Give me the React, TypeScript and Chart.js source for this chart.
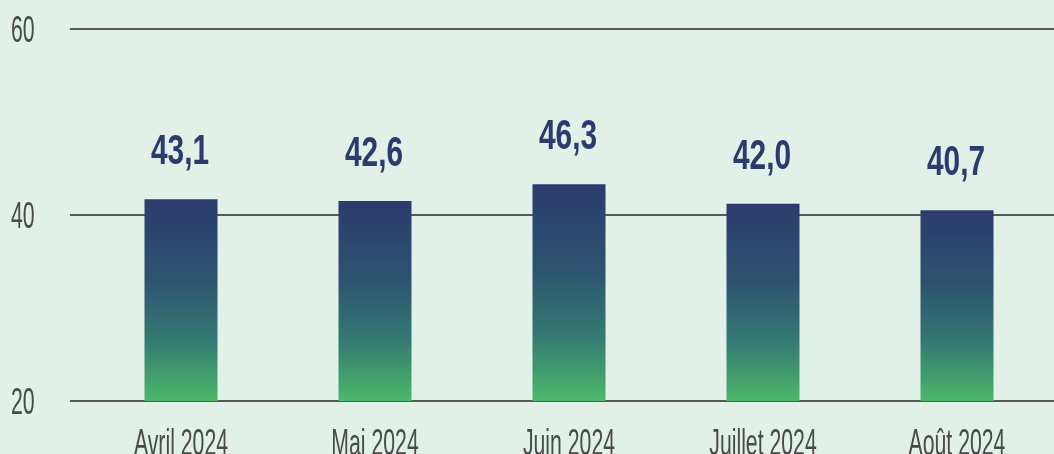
import React, { useEffect, useRef } from "react";
import { Chart, registerables } from "chart.js";

Chart.register(...registerables);

const categories = ["Avril 2024", "Mai 2024", "Juin 2024", "Juillet 2024", "Août 2024"];
const barValues = [41.7, 41.5, 43.3, 41.2, 40.5];
const valueLabels = ["43,1", "42,6", "46,3", "42,0", "40,7"];
const yTicks = [20, 40, 60];

const BG = "#e1f1e7";
const NAVY = "#2c3b6d";
const AXIS_TEXT = "#4a4a4a";
const GRID = "#595959";
const FONT_FAMILY = "'Liberation Sans', Arial, sans-serif";

function drawScaledText(
  ctx: CanvasRenderingContext2D,
  text: string,
  x: number,
  y: number,
  font: string,
  color: string,
  sx: number,
  align: CanvasTextAlign
) {
  ctx.save();
  ctx.translate(x, y);
  ctx.scale(sx, 1);
  ctx.font = font;
  ctx.fillStyle = color;
  ctx.textAlign = align;
  ctx.textBaseline = "alphabetic";
  ctx.fillText(text, 0, 0);
  ctx.restore();
}

const textPlugin = {
  id: "customText",
  afterDraw(chart: any) {
    const ctx: CanvasRenderingContext2D = chart.ctx;
    const xs = chart.scales.x;
    const ys = chart.scales.y;
    yTicks.forEach((v) => {
      const py = ys.getPixelForValue(v);
      drawScaledText(ctx, String(v), 11, py + 13, `400 36px ${FONT_FAMILY}`, AXIS_TEXT, 0.59, "left");
    });
    categories.forEach((c, i) => {
      const px = xs.getPixelForValue(i);
      drawScaledText(ctx, c, px, 455, `400 36px ${FONT_FAMILY}`, AXIS_TEXT, 0.59, "center");
    });
    const meta = chart.getDatasetMeta(0);
    meta.data.forEach((bar: any, i: number) => {
      drawScaledText(ctx, valueLabels[i], bar.x - 1, bar.y - 35, `700 42px ${FONT_FAMILY}`, NAVY, 0.71, "center");
    });
  },
};

const bgPlugin = {
  id: "bg",
  beforeDraw(chart: any) {
    const ctx = chart.ctx;
    ctx.save();
    ctx.fillStyle = BG;
    ctx.fillRect(0, 0, chart.width, chart.height);
    ctx.restore();
  },
};

export default function App() {
  const ref = useRef<HTMLCanvasElement | null>(null);
  useEffect(() => {
    document.body.style.margin = "0";
    document.body.style.background = BG;
    const canvas = ref.current;
    if (!canvas) return;
    const chart = new Chart(canvas, {
      type: "bar",
      data: {
        labels: categories,
        datasets: [
          {
            data: barValues,
            borderWidth: 0,
            barPercentage: 73 / 194,
            categoryPercentage: 1,
            backgroundColor: (context: any) => {
              const ch = context.chart;
              const ys = ch.scales.y;
              if (!ys || context.dataIndex === undefined) return NAVY;
              const top = ys.getPixelForValue(barValues[context.dataIndex]);
              const bottom = ys.getPixelForValue(20);
              if (!isFinite(top) || !isFinite(bottom) || top === bottom) return NAVY;
              const g = ch.ctx.createLinearGradient(0, top, 0, bottom);
              g.addColorStop(0, "#2c3b6e");
              g.addColorStop(0.4, "#2d5470");
              g.addColorStop(0.7, "#347a72");
              g.addColorStop(1, "#4cb86a");
              return g;
            },
          },
        ],
      },
      options: {
        responsive: false,
        animation: false,
        layout: { padding: { top: 29, left: 0, right: 0, bottom: 0 } },
        plugins: { legend: { display: false }, tooltip: { enabled: false } },
        scales: {
          x: {
            grid: { display: false },
            border: { display: false },
            ticks: { display: false },
            afterFit: (s: any) => {
              s.height = 53;
            },
          },
          y: {
            min: 20,
            max: 60,
            ticks: { display: false, stepSize: 20 },
            grid: { color: GRID, lineWidth: 2, drawTicks: true, tickLength: 14 },
            border: { display: false },
            afterFit: (s: any) => {
              s.width = 84;
            },
          },
        },
      },
      plugins: [bgPlugin, textPlugin],
    });
    return () => chart.destroy();
  }, []);
  return (
    <div style={{ width: 1054, height: 454, background: BG }}>
      <canvas ref={ref} width={1054} height={454} style={{ display: "block" }} />
    </div>
  );
}
